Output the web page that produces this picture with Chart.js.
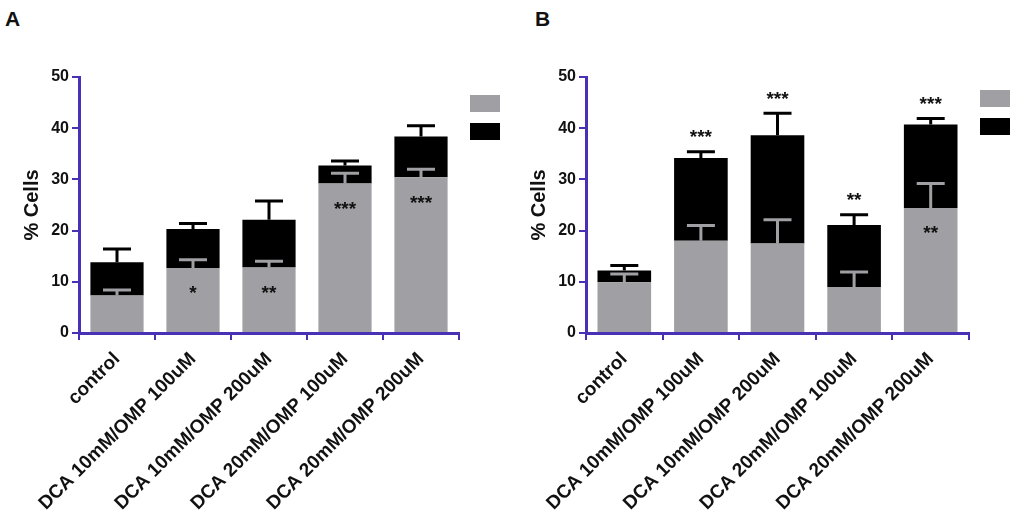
<!DOCTYPE html>
<html>
<head>
<meta charset="utf-8">
<script src="https://cdn.jsdelivr.net/npm/chart.js@4.4.1/dist/chart.umd.min.js"></script>
<style>
  body { margin: 0; background: #fff; width: 1013px; height: 514px; overflow: hidden; position: relative; }
  canvas { position: absolute; top: 0; }
  #cA { left: 0; }
  #cB { left: 507px; }
  .tag { position: absolute; top: 7px; font: bold 21px "Liberation Sans", Arial, sans-serif; color: #111; }
</style>
</head>
<body>
<div class="tag" style="left:5px">A</div>
<div class="tag" style="left:535px">B</div>
<canvas id="cA" width="506" height="514"></canvas>
<canvas id="cB" width="506" height="514"></canvas>
<script>
const categories = ["control", "DCA 10mM/OMP 100uM", "DCA 10mM/OMP 200uM", "DCA 20mM/OMP 100uM", "DCA 20mM/OMP 200uM"];
const yTicks = [0, 10, 20, 30, 40, 50];

// Panel A - gray (lower) and black (upper) segments, SEM
const grayA = [7.3, 12.7, 12.8, 29.2, 30.4];
const grayErrA = [1.1, 1.6, 1.2, 2.0, 1.6];
const blackA = [6.5, 7.6, 9.3, 3.5, 8.0];
const blackErrA = [2.6, 1.1, 3.7, 0.9, 2.1];
const graySigA = ["", "*", "**", "***", "***"];
const blackSigA = ["", "", "", "", ""];

// Panel B
const grayB = [9.9, 18.0, 17.5, 9.0, 24.4];
const grayErrB = [1.6, 3.0, 4.6, 2.9, 4.8];
const blackB = [2.3, 16.2, 21.1, 12.1, 16.3];
const blackErrB = [1.0, 1.2, 4.3, 2.0, 1.2];
const graySigB = ["", "", "", "", "**"];
const blackSigB = ["", "***", "***", "**", "***"];

const GRAY = "#a0a0a4";
const AXIS = "#4a30b4";
const FONT = "'Liberation Sans', Arial, sans-serif";

// error bars, stars and the two legend squares
const extras = {
  id: "extras",
  afterDatasetsDraw(chart, args, opts) {
    const ctx = chart.ctx;
    const y = chart.scales.y;
    const g = chart.getDatasetMeta(0).data;
    const b = chart.getDatasetMeta(1).data;
    ctx.save();
    ctx.lineWidth = 3;
    g.forEach((bar, i) => {
      const gTop = opts.gray[i];
      const tTop = opts.gray[i] + opts.black[i];
      const draws = [
        [gTop, opts.grayErr[i], GRAY, bar.x],
        [tTop, opts.blackErr[i], "#000", b[i].x]
      ];
      draws.forEach(([v, e, col, x]) => {
        const y0 = y.getPixelForValue(v);
        const y1 = y.getPixelForValue(v + e);
        ctx.strokeStyle = col;
        ctx.beginPath();
        ctx.moveTo(x, y0);
        ctx.lineTo(x, y1);
        ctx.moveTo(x - 14, y1);
        ctx.lineTo(x + 14, y1);
        ctx.stroke();
      });
      ctx.fillStyle = "#111";
      ctx.font = "bold 19px " + FONT;
      ctx.textAlign = "center";
      ctx.textBaseline = "middle";
      if (opts.graySig[i]) {
        ctx.fillText(opts.graySig[i], bar.x, y.getPixelForValue(gTop) + 26);
      }
      if (opts.blackSig[i]) {
        ctx.fillText(opts.blackSig[i], bar.x, y.getPixelForValue(tTop + opts.blackErr[i]) - 14);
      }
    });
    const ca = chart.chartArea;
    ctx.fillStyle = GRAY;
    ctx.fillRect(ca.right + 11, ca.top + opts.legendTop, 30, 17);
    ctx.fillStyle = "#000";
    ctx.fillRect(ca.right + 11, ca.top + opts.legendTop + 28, 30, 17);
    ctx.restore();
  }
};

function makeChart(id, gray, grayErr, black, blackErr, graySig, blackSig, padRight, legendTop) {
  return new Chart(document.getElementById(id), {
    type: "bar",
    data: {
      labels: categories,
      datasets: [
        { data: gray, backgroundColor: GRAY, borderWidth: 0 },
        { data: black, backgroundColor: "#000", borderWidth: 0 }
      ]
    },
    options: {
      responsive: false,
      animation: false,
      devicePixelRatio: 1,
      layout: { padding: { top: 77, right: padRight, left: 0, bottom: 0 } },
      datasets: { bar: { categoryPercentage: 1, barPercentage: 0.7 } },
      plugins: {
        legend: { display: false },
        tooltip: { enabled: false },
        extras: { gray, grayErr, black, blackErr, graySig, blackSig, legendTop }
      },
      scales: {
        x: {
          stacked: true,
          border: { color: AXIS, width: 3 },
          grid: { display: true, drawOnChartArea: false, color: AXIS, lineWidth: 2, tickLength: 7 },
          ticks: {
            color: "#111",
            font: { family: FONT, size: 19, weight: "bold" },
            minRotation: 45,
            maxRotation: 45,
            padding: 8
          },
          afterFit: s => { s.height = 181; }
        },
        y: {
          stacked: true,
          min: 0,
          max: 50,
          border: { color: AXIS, width: 3 },
          grid: { display: true, drawOnChartArea: false, color: AXIS, lineWidth: 2, tickLength: 7 },
          afterBuildTicks: s => { s.ticks = yTicks.map(v => ({ value: v })); },
          ticks: {
            color: "#111",
            font: { family: FONT, size: 16, weight: "bold" },
            padding: 3
          },
          title: {
            display: true,
            text: "% Cells",
            color: "#111",
            font: { family: FONT, size: 20, weight: "bold" },
            padding: { top: 20, bottom: 0 }
          },
          afterFit: s => { s.width = 79; }
        }
      }
    },
    plugins: [extras]
  });
}

makeChart("cA", grayA, grayErrA, blackA, blackErrA, graySigA, blackSigA, 47, 18);
makeChart("cB", grayB, grayErrB, blackB, blackErrB, graySigB, blackSigB, 44, 13);
</script>
</body>
</html>
